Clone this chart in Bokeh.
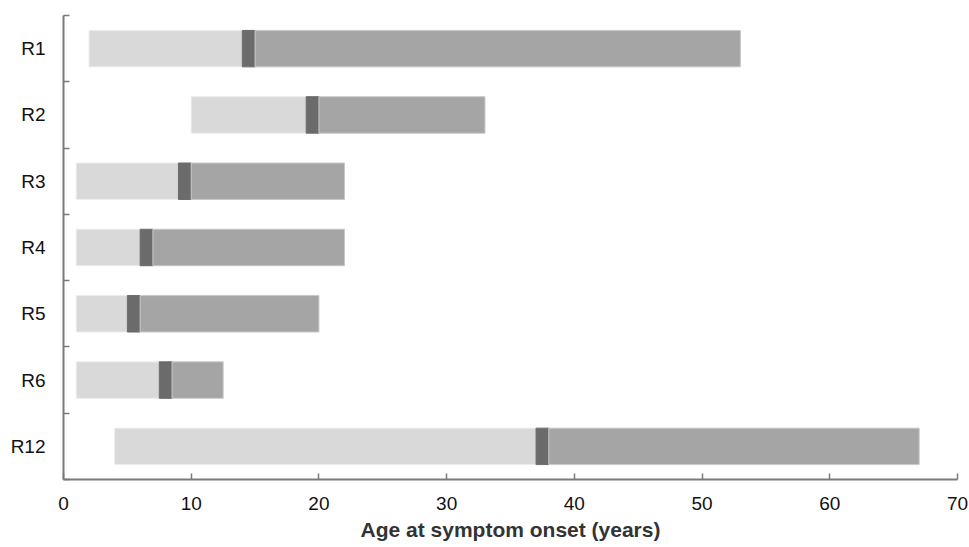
from bokeh.plotting import figure
from bokeh.models import Range1d, FixedTicker, ColumnDataSource
from bokeh.embed import file_html
from bokeh.resources import INLINE

patients = ["R1", "R2", "R3", "R4", "R5", "R6", "R12"]
start_age = [2, 10, 1, 1, 1, 1, 4]
onset_start = [14, 19, 9, 6, 5, 7.5, 37]
onset_end = [15, 20, 10, 7, 6, 8.5, 38]
end_age = [53, 33, 22, 22, 20, 12.5, 67]
x_ticks = [0, 10, 20, 30, 40, 50, 60, 70]

n = len(patients)
ypos = [n - i - 0.5 for i in range(n)]
src = ColumnDataSource(dict(y=ypos, s=start_age, o1=onset_start, o2=onset_end, e=end_age))

p = figure(width=969, height=547, output_backend="svg", toolbar_location=None,
           x_range=Range1d(0, 70), y_range=Range1d(0, n),
           min_border_left=63, min_border_right=12, min_border_top=15, min_border_bottom=68)

h = 0.55
p.hbar(y="y", left="s", right="o1", height=h, source=src,
       fill_color="#d9d9d9", line_color="#ececec", line_width=1)
p.hbar(y="y", left="o1", right="o2", height=h, source=src,
       fill_color="#6b6b6b", line_color="#6b6b6b", line_width=1)
p.hbar(y="y", left="o2", right="e", height=h, source=src,
       fill_color="#a5a5a5", line_color="#c8c8c8", line_width=1)

p.grid.visible = False
p.outline_line_color = None
p.background_fill_color = "white"

axis_col = "#7a7a7a"
xa = p.xaxis[0]
xa.ticker = FixedTicker(ticks=x_ticks)
xa.axis_line_color = axis_col
xa.axis_line_width = 2
xa.major_tick_line_color = axis_col
xa.major_tick_line_width = 1.5
xa.major_tick_in = 6
xa.major_tick_out = 0
xa.minor_tick_line_color = None
xa.major_label_text_font = "Liberation Sans"
xa.major_label_text_font_size = "19px"
xa.major_label_text_color = "#111111"
xa.major_label_standoff = 17
xa.axis_label = "Age at symptom onset (years)"
xa.axis_label_text_font = "Liberation Sans"
xa.axis_label_text_font_style = "bold"
xa.axis_label_text_font_size = "21px"
xa.axis_label_text_color = "#333333"
xa.axis_label_standoff = 5

ya = p.yaxis[0]
ya.ticker = FixedTicker(ticks=ypos, minor_ticks=list(range(n + 1)))
ya.major_label_overrides = {y: lab for y, lab in zip(ypos, patients)}
ya.axis_line_color = axis_col
ya.axis_line_width = 2
ya.major_tick_line_color = None
ya.major_tick_in = 0
ya.major_tick_out = 0
ya.minor_tick_line_color = axis_col
ya.minor_tick_line_width = 1.5
ya.minor_tick_in = 6
ya.minor_tick_out = 0
ya.major_label_text_font = "Liberation Sans"
ya.major_label_text_font_size = "19px"
ya.major_label_text_color = "#111111"
ya.major_label_standoff = 18

open("out.html", "w").write(file_html(p, INLINE))
